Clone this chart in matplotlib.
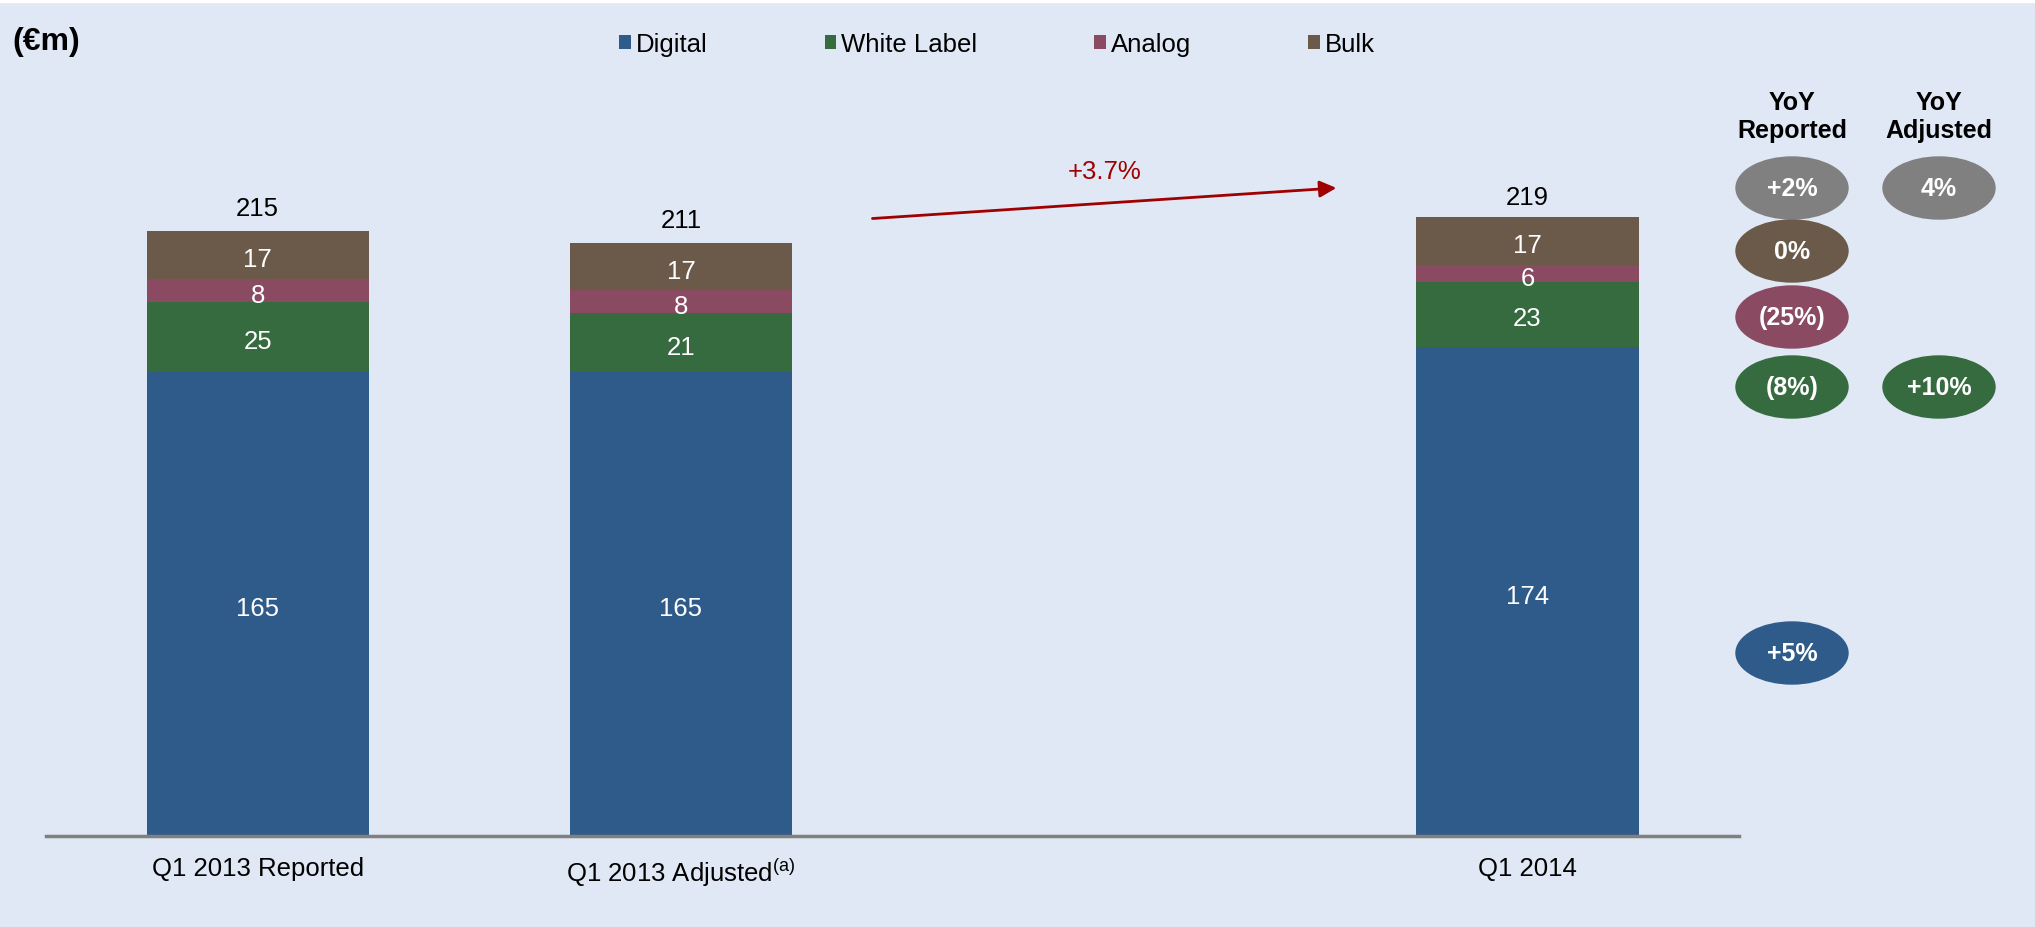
import numpy as np
import matplotlib.pyplot as plt
from matplotlib.patches import Ellipse, Rectangle

plt.rcParams['font.family'] = ['Liberation Sans', 'DejaVu Sans']
plt.rcParams['mathtext.fontset'] = 'custom'
plt.rcParams['mathtext.rm'] = 'Liberation Sans'

# data
categories = ['Q1 2013 Reported', 'Q1 2013 Adjusted$^{\\mathrm{(a)}}$', 'Q1 2014']
positions = [0, 1, 3]
segments = ['Digital', 'White Label', 'Analog', 'Bulk']
digital = [165, 165, 174]
white_label = [25, 21, 23]
analog = [8, 8, 6]
bulk = [17, 17, 17]
totals = [215, 211, 219]
growth_label = '+3.7%'

yoy_reported = ['+2%', '0%', '(25%)', '(8%)', '+5%']
yoy_reported_keys = ['Total', 'Bulk', 'Analog', 'White Label', 'Digital']
yoy_adjusted = ['4%', '+10%']
yoy_adjusted_keys = ['Total', 'White Label']

colors = {'Digital': '#2f5b8a', 'White Label': '#366a3f', 'Analog': '#8a4a62',
          'Bulk': '#6b5a4a', 'Total': '#808080'}
bg = '#dfe8f4'

fig = plt.figure(figsize=(20.35, 9.28), dpi=100, facecolor=bg)
fig.patches.append(Rectangle((0, 0.9965), 1, 0.0035, transform=fig.transFigure,
                             color='white', zorder=0))
ax = fig.add_axes([0.0226, 0.098, 0.832, 0.788])
ax.set_facecolor(bg)

series = [digital, white_label, analog, bulk]
bottom = np.zeros(len(positions))
for name, vals in zip(segments, series):
    bars = ax.bar(positions, vals, width=0.525, bottom=bottom, color=colors[name], label=name)
    for b, v, b0 in zip(bars, vals, bottom):
        ax.annotate(str(v), (b.get_x() + b.get_width() / 2, b0 + v / 2), xytext=(0, -3),
                    textcoords='offset points', ha='center', va='center',
                    color='white', fontsize=18.5)
    bottom += np.array(vals)

for x, t in zip(positions, totals):
    ax.annotate(str(t), (x, t), xytext=(0, 16.5), textcoords='offset points',
                ha='center', va='center', fontsize=18.5)

# growth arrow between adjusted and 2014
ax.annotate('', xy=(2.555, 230.5), xytext=(1.446, 219.5),
            arrowprops=dict(arrowstyle='-|>', color='#a00000', lw=2, mutation_scale=25))
ax.text(2.0, 236.5, growth_label, color='#a00000', fontsize=18.5, ha='center', va='center')

ax.set_xlim(-0.5, 3.5)
ax.set_ylim(0, 260)
ax.set_xticks(positions)
ax.set_xticklabels(categories, fontsize=18.5)
ax.tick_params(axis='x', length=0, pad=14)
ax.set_yticks([])
for s in ['top', 'right', 'left']:
    ax.spines[s].set_visible(False)
ax.spines['bottom'].set_color('#808080')
ax.spines['bottom'].set_linewidth(2.5)

fig.text(0.006, 0.955, '(\u20acm)', fontsize=23, fontweight='bold', va='center', ha='left')

handles, labels = ax.get_legend_handles_labels()
fig.legend(handles, labels, loc='center', bbox_to_anchor=(0.49, 0.951), ncol=4,
           frameon=False, fontsize=18.5, handlelength=0.45, handleheight=0.45,
           handletextpad=0.2, columnspacing=4.55)

# YoY ellipses (overlay in pixel space)
ov = fig.add_axes([0, 0, 1, 1], facecolor='none')
ov.set_xlim(0, 2035)
ov.set_ylim(928, 0)
ov.axis('off')

col_x = [1792, 1939]
ov.text(col_x[0], 117, 'YoY\nReported', ha='center', va='center', fontsize=18,
        fontweight='bold', linespacing=1.25)
ov.text(col_x[1], 117, 'YoY\nAdjusted', ha='center', va='center', fontsize=18,
        fontweight='bold', linespacing=1.25)

row_y = {'Total': 189, 'Bulk': 252, 'Analog': 318, 'White Label': 388, 'Digital': 654}
for txt, key in zip(yoy_reported, yoy_reported_keys):
    ov.add_patch(Ellipse((col_x[0], row_y[key]), 112, 62, color=colors[key]))
    ov.text(col_x[0], row_y[key], txt, ha='center', va='center', color='white',
            fontsize=18, fontweight='bold')
for txt, key in zip(yoy_adjusted, yoy_adjusted_keys):
    ov.add_patch(Ellipse((col_x[1], row_y[key]), 112, 62, color=colors[key]))
    ov.text(col_x[1], row_y[key], txt, ha='center', va='center', color='white',
            fontsize=18, fontweight='bold')

fig.savefig('out.png', dpi=100, facecolor=bg)
